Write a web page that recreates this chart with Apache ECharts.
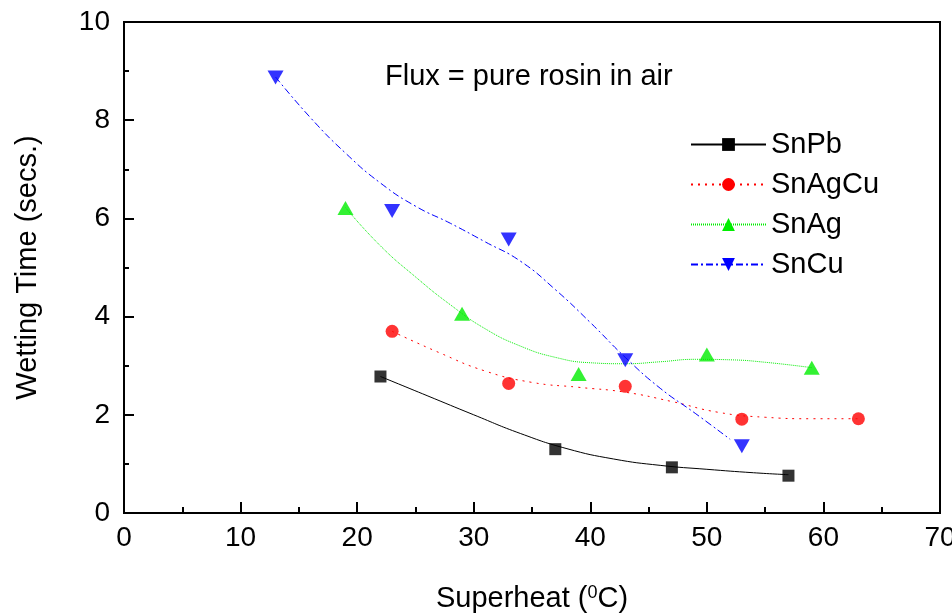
<!DOCTYPE html>
<html>
<head>
<meta charset="utf-8">
<script src="https://cdn.jsdelivr.net/npm/echarts@6/dist/echarts.min.js"></script>
<style>html,body{margin:0;padding:0;background:#fff}#c{width:952px;height:614px}</style>
</head>
<body>
<div id="c"></div>
<script>
// measured points
var snPb   = [[22,2.78],[37,1.30],[47,0.93],[57,0.76]];
var snAgCu = [[23,3.70],[33,2.64],[43,2.58],[53,1.91],[63,1.92]];
var snAg   = [[19,6.21],[29,4.06],[39,2.83],[50,3.23],[59,2.96]];
var snCu   = [[13,8.87],[23,6.15],[33,5.57],[43,3.11],[53,1.36]];
// fitted curves
var snPbFit   = [[22,2.78],[26,2.39],[30,2.00],[34,1.62],[38,1.31],[42,1.10],[46,0.97],[50,0.89],[54,0.82],[57,0.78]];
var snAgCuFit = [[23,3.70],[27,3.27],[31,2.89],[35,2.66],[39,2.56],[43,2.46],[47,2.27],[51,2.05],[55,1.95],[59,1.92],[63,1.92]];
var snAgFit   = [[19,6.22],[22,5.44],[25,4.81],[28,4.24],[31,3.75],[34,3.40],[37,3.17],[40,3.06],[43,3.04],[46,3.08],[49,3.13],[52,3.12],[55,3.07],[59,2.96]];
var snCuFit   = [[13,8.88],[16,8.05],[19,7.33],[22,6.72],[25,6.25],[28,5.90],[31,5.52],[34,5.13],[37,4.55],[40,3.88],[43,3.17],[46,2.54],[49,2.03],[52,1.50]];
var names = ['SnPb','SnAgCu','SnAg','SnCu'];
var annotation = 'Flux = pure rosin in air';

var FONT = 'Liberation Sans, Arial, sans-serif';
var styles = [
  {color:'#000000', symbol:'rect', size:12, type:'solid', pts:snPb, fit:snPbFit},
  {color:'#ff0000', symbol:'circle', size:13, type:[2,5], pts:snAgCu, fit:snAgCuFit},
  {color:'#00ee00', symbol:'triangle', size:[16,14], type:[1,1], pts:snAg, fit:snAgFit},
  {color:'#0000ff', symbol:'path://M0,0L10,0L5,9Z', size:[16,14], type:[7,3,2,3], pts:snCu, fit:snCuFit}
];
var series = [];
styles.forEach(function(s,i){
  series.push({
    name:names[i], type:'line', data:s.fit, smooth:0.5, showSymbol:false,
    symbol:s.symbol, symbolSize:s.size, silent:true,
    lineStyle:{color:s.color, width:1, type:s.type},
    itemStyle:{color:s.color}, z:2
  });
  series.push({
    name:names[i], type:'scatter', data:s.pts, symbol:s.symbol, symbolSize:s.size,
    itemStyle:{color:s.color}, z:3
  });
});

var chart = echarts.init(document.getElementById('c'));
chart.setOption({
  animation:false,
  backgroundColor:'#fff',
  textStyle:{fontFamily:FONT},
  grid:{left:124, right:12, top:22, bottom:101, show:true, borderColor:'#000', borderWidth:2, containLabel:false, outerBoundsMode:'none'},
  legend:{
    data:names, orient:'vertical', left:685, top:125, itemWidth:75, itemHeight:16, itemGap:11,
    textStyle:{fontFamily:FONT, fontSize:29, color:'#000'}
  },
  graphic:[{type:'text', left:385, top:62, style:{text:annotation, font:'29px '+FONT, fill:'#000'}}],
  xAxis:{
    type:'value', min:0, max:70, interval:10,
    name:'Superheat ({sup|0}C)', nameLocation:'middle', nameGap:71,
    nameTextStyle:{fontFamily:FONT, fontSize:29, color:'#000', rich:{sup:{fontSize:18, verticalAlign:'top', padding:[0,0,12,0], fontFamily:FONT, color:'#000'}}},
    axisLine:{onZero:false, lineStyle:{color:'#000', width:2}},
    axisTick:{inside:true, length:11, lineStyle:{color:'#000', width:2}},
    minorTick:{show:true, splitNumber:2, length:6, lineStyle:{color:'#000', width:2}},
    splitLine:{show:false},
    axisLabel:{fontFamily:FONT, fontSize:28, color:'#000', margin:11}
  },
  yAxis:{
    type:'value', min:0, max:10, interval:2,
    name:'Wetting Time (secs.)', nameLocation:'middle', nameGap:82, nameRotate:90,
    nameTextStyle:{fontFamily:FONT, fontSize:29, color:'#000'},
    axisLine:{onZero:false, lineStyle:{color:'#000', width:2}},
    axisTick:{inside:true, length:10, lineStyle:{color:'#000', width:2}},
    minorTick:{show:true, splitNumber:2, length:5, lineStyle:{color:'#000', width:2}},
    splitLine:{show:false},
    axisLabel:{fontFamily:FONT, fontSize:28, color:'#000', margin:14}
  },
  series:series
});
</script>
</body>
</html>
